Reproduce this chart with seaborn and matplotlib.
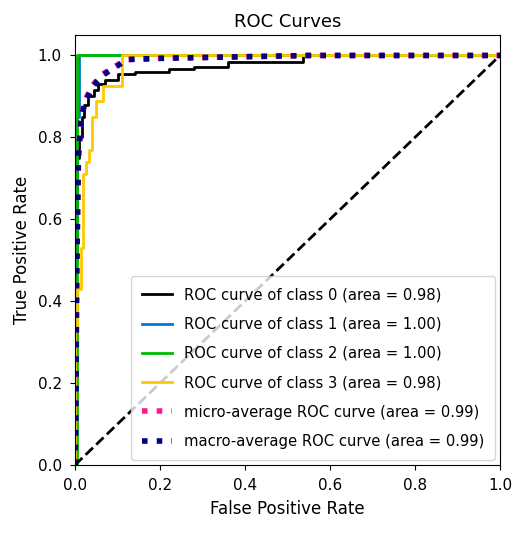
import numpy as np
import matplotlib
matplotlib.use("Agg")
import matplotlib.pyplot as plt
import seaborn as sns

# per-class ROC curves (fpr, tpr)
class0_fpr = [0.0, 0.0, 0.005, 0.005, 0.01, 0.01, 0.016, 0.016, 0.022, 0.022, 0.03, 0.03,
              0.045, 0.045, 0.055, 0.055, 0.07, 0.07, 0.1, 0.1, 0.14, 0.14, 0.22, 0.22,
              0.28, 0.28, 0.36, 0.36, 0.536, 0.536, 1.0]
class0_tpr = [0.0, 0.5, 0.5, 0.75, 0.75, 0.8, 0.8, 0.85, 0.85, 0.88, 0.88, 0.9,
              0.9, 0.915, 0.915, 0.93, 0.93, 0.94, 0.94, 0.955, 0.955, 0.96, 0.96, 0.966,
              0.966, 0.973, 0.973, 0.985, 0.985, 1.0, 1.0]

class1_fpr = [0.0, 0.0, 0.01, 0.01, 1.0]
class1_tpr = [0.0, 0.85, 0.85, 1.0, 1.0]

class2_fpr = [0.0, 0.004, 0.004, 1.0]
class2_tpr = [0.0, 0.0, 1.0, 1.0]

class3_fpr = [0.0, 0.0, 0.005, 0.005, 0.013, 0.013, 0.019, 0.019, 0.026, 0.026, 0.034, 0.034,
              0.039, 0.039, 0.05, 0.05, 0.066, 0.066, 0.11, 0.11, 1.0]
class3_tpr = [0.0, 0.33, 0.33, 0.43, 0.43, 0.53, 0.53, 0.71, 0.71, 0.74, 0.74, 0.77,
              0.77, 0.85, 0.85, 0.89, 0.89, 0.926, 0.926, 1.0, 1.0]

micro_fpr = [0.0, 0.002, 0.004, 0.008, 0.014, 0.02, 0.028, 0.04, 0.052, 0.066, 0.085,
             0.105, 0.12, 0.2, 0.35, 0.55, 1.0]
micro_tpr = [0.0, 0.2, 0.5, 0.76, 0.84, 0.875, 0.9, 0.925, 0.94, 0.955, 0.968,
             0.98, 0.99, 0.993, 0.996, 1.0, 1.0]
macro_fpr = micro_fpr
macro_tpr = [0.0, 0.1, 0.45, 0.75, 0.84, 0.87, 0.895, 0.92, 0.937, 0.952, 0.965,
             0.978, 0.99, 0.993, 0.996, 1.0, 1.0]

class_names = ["0", "1", "2", "3"]
class_auc = [0.98, 1.00, 1.00, 0.98]
micro_auc = 0.99
macro_auc = 0.99

fig = plt.figure(figsize=(5.2, 5.35), dpi=100)
ax = fig.add_axes([75 / 520, 70 / 535, 425 / 520, 430 / 535])

curves = [(class0_fpr, class0_tpr), (class1_fpr, class1_tpr),
          (class2_fpr, class2_tpr), (class3_fpr, class3_tpr)]
for i, (fpr, tpr) in enumerate(curves):
    color = plt.cm.nipy_spectral(float(i) / len(curves))
    sns.lineplot(x=fpr, y=tpr, ax=ax, sort=False, estimator=None, color=color, linewidth=2,
                 label="ROC curve of class {0} (area = {1:0.2f})".format(class_names[i], class_auc[i]))

sns.lineplot(x=micro_fpr, y=micro_tpr, ax=ax, sort=False, estimator=None, color="deeppink",
             linestyle=":", linewidth=4,
             label="micro-average ROC curve (area = {0:0.2f})".format(micro_auc))
sns.lineplot(x=macro_fpr, y=macro_tpr, ax=ax, sort=False, estimator=None, color="navy",
             linestyle=":", linewidth=4,
             label="macro-average ROC curve (area = {0:0.2f})".format(macro_auc))

ax.plot([0, 1], [0, 1], "k--", lw=2)
ax.set_xlim([0.0, 1.0])
ax.set_ylim([0.0, 1.05])

ax.set_title("ROC Curves", fontsize=13)
ax.set_xlabel("False Positive Rate", fontsize=12, labelpad=5)
ax.set_ylabel("True Positive Rate", fontsize=12, labelpad=5)
ax.tick_params(labelsize=11, pad=6)
ax.legend(loc="lower right", fontsize=10.6, labelspacing=0.97, borderpad=0.75,
          handlelength=2.0, borderaxespad=0.35)

fig.savefig("out.png", dpi=100)
